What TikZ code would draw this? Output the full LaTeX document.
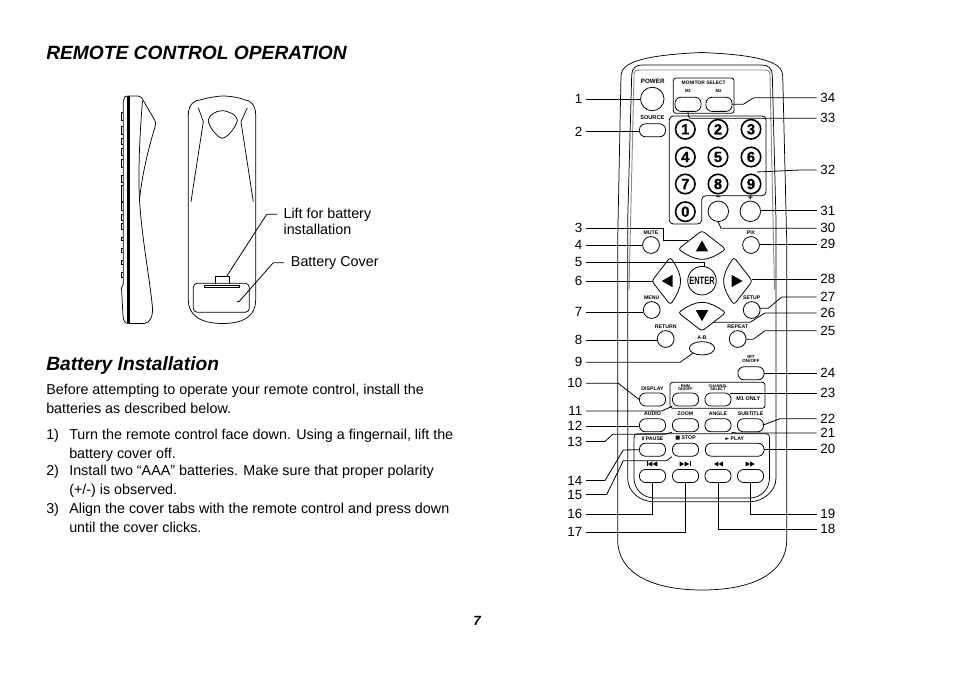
\documentclass[tikz,border=0pt]{standalone}
\usepackage{fontspec}
\setmainfont{Liberation Sans}
\newfontfamily\symf{DejaVu Sans}
\usetikzlibrary{calc,shapes.geometric}
\newcommand{\fnt}[1]{\fontsize{#1}{#1}\selectfont}
\newcommand{\fs}{\rule{0pt}{10pt}}
\tikzset{
  x=.75pt,y=-.75pt,
  outline/.style={line width=.55pt,black},
  leader/.style={line width=.6pt,black},
  bodytext/.style={anchor=north west,inner sep=0pt,align=left,font=\fnt{10.75}},
  llab/.style={anchor=east,inner xsep=2.6pt,inner ysep=0pt,font=\fnt{10}},
  rlab/.style={anchor=west,inner xsep=2.6pt,inner ysep=0pt,font=\fnt{10}},
  tiny/.style={inner sep=0pt,align=center,font=\fnt{3.9}\bfseries},
  tinyb/.style={inner sep=0pt,align=center,font=\fnt{2.9}\bfseries},
  rb/.style={draw,line width=.6pt,rectangle,rounded corners=4.6pt,minimum width=19.6pt,minimum height=9.8pt,inner sep=0pt},
  cb/.style={draw,line width=.6pt,circle,minimum size=12.6pt,inner sep=0pt},
  digit/.style={draw,line width=1.2pt,circle,minimum size=14.6pt,inner sep=0pt,font=\fnt{11}\bfseries\addfontfeature{FakeBold=1.2}},
  pics/padbtn/.style={code={
    \draw[line width=.6pt] (0,-13.8) .. controls (-1.5,-13.8) and (-2.5,-13) .. (-4,-11.8)
       -- (-21.5,1.8) .. controls (-23,3.2) and (-22.6,4.4) .. (-21.3,5.3)
       .. controls (-15,9.5) and (-8,13.8) .. (0,13.8)
       .. controls (8,13.8) and (15,9.5) .. (21.3,5.3)
       .. controls (22.6,4.4) and (23,3.2) .. (21.5,1.8)
       -- (4,-11.8) .. controls (2.5,-13) and (1.5,-13.8) .. (0,-13.8) -- cycle;
    \fill (0,-5) -- (-6.2,6) -- (6.2,6) -- cycle;
  }},
}
\begin{document}
\begin{tikzpicture}
\useasboundingbox (0,0) rectangle (954,673);
% ---------- left page text
\node[anchor=base west,inner sep=0pt,font=\fnt{14.4}\bfseries\itshape] (title) at (46,60) {REMOTE CONTROL OPERATION};
\node[anchor=base west,inner sep=0pt,font=\fnt{14.4}\bfseries\itshape] (sub) at (46,371) {Battery Installation};
\node[bodytext] (intro) at (46,380.5) {\fs Before attempting to operate your remote control, install the\\[3.55pt]batteries as described below.};
\node[bodytext] (n1) at (46,425.5) {\fs 1)};
\node[bodytext] (t1) at (69,425.5) {\fs Turn the remote control face down. Using a fingernail, lift the\\[3.55pt]battery cover off.};
\node[bodytext] (n2) at (46,461.5) {\fs 2)};
\node[bodytext] (t2) at (69,461.5) {\fs Install two “AAA” batteries. Make sure that proper polarity\\[3.55pt](+/-) is observed.};
\node[bodytext] (n3) at (46,499.5) {\fs 3)};
\node[bodytext] (t3) at (69,499.5) {\fs Align the cover tabs with the remote control and press down\\[3.55pt]until the cover clicks.};
\node[inner sep=0pt,font=\fnt{10}\bfseries\itshape] (page) at (477,621) {7};
% ---------- side view
\begin{scope}[outline]
\fill (127.3,96) rectangle (129.6,323.5);
\draw (128.5,96) -- (138,96) .. controls (141,96) and (142,98) .. (143,100) -- (154,119)
  .. controls (156,122) and (156,124) .. (155,127) .. controls (148,150) and (142,175) .. (139.5,200)
  .. controls (142,240) and (150,280) .. (152.5,308) .. controls (153,316) and (150,323.5) .. (144,323.5) -- (128.5,323.5);
\draw (142.5,101) .. controls (140,130) and (138,170) .. (139.5,200);
\draw (128.5,96) -- (125,96.5) .. controls (123.5,98) and (123.3,99) .. (123.3,101) -- (123.3,284) -- (121.5,288) -- (123,316) .. controls (123.5,321) and (125,323.5) .. (128.5,323.5);
\foreach \a/\b in {112.5/120,126.5/134,138/144.5,148.5/155,159/167,175/182,185/201,202/210,214.5/220,223.5/229,237/240.5,248.5/252,260/264,272.5/277}
  \draw (123.3,\a) -- (121,\a) -- (121,\b) -- (123.3,\b);
% ---------- back view
\draw (188.3,300) -- (188.3,115) .. controls (188.3,103) and (196,100) .. (200,100)
  .. controls (210,97) and (220,96) .. (222.5,96) .. controls (228,96) and (238,97) .. (245,100)
  .. controls (250,100) and (255.7,105) .. (255.7,115) -- (255.7,300)
  .. controls (255.7,315) and (245,323.5) .. (222.5,323.5) .. controls (200,323.5) and (188.3,315) .. (188.3,300) -- cycle;
\draw (222.3,138.3) .. controls (216,137) and (208,125) .. (208.3,120) .. controls (209,115) and (216,110.7) .. (222,110.7)
  .. controls (228,110.7) and (237,115) .. (237.3,120) .. controls (237,125) and (229,137) .. (222.3,138.3) -- cycle;
\draw (198.3,107.7) -- (203.3,121.7) -- (191,201.7);
\draw (247.3,107.7) -- (241,121.7) -- (253.3,201.7);
\node[draw,rectangle,inner sep=0pt,minimum width=10.2pt,minimum height=5.4pt] (tab) at (222.5,280.3) {};
\draw[fill=white,rounded corners=3pt] (193.3,283.3) rectangle (249.3,312.3);
\node[draw,line width=.35pt,rectangle,inner sep=0pt,minimum width=26pt,minimum height=1.3pt] (slot) at (221.5,286) {};
\coordinate (coverpt) at (239,301.7);
\draw (coverpt) -- ++(-2,-.5);
\end{scope}
\coordinate (liftbend) at (266.7,214.3);
\coordinate (coverbend) at (273.3,262.7);
\node[anchor=west,inner xsep=0pt,inner ysep=0pt,align=left,font=\fnt{10.75}] (liftlab) at (283.3,221.5) {Lift for battery\\[1.25pt]installation};
\node[anchor=west,inner xsep=0pt,inner ysep=0pt,font=\fnt{10.75}] (coverlab) at (290.7,262.5) {Battery Cover};
\draw[leader] (tab.north east) ++(-3,0) -- (liftbend) -- (277,214.3);
\draw[leader] (coverpt) -- (coverbend) -- (284,262.7);
% ---------- remote shell
\draw[outline] (621,75) -- (617.7,240) -- (617.7,540) .. controls (617.7,572) and (650,590) .. (702,590)
  .. controls (755,590) and (786.7,572) .. (786.7,540) -- (786.7,240) -- (782.7,75)
  .. controls (782,62) and (760,55) .. (702,52.5) .. controls (645,55) and (622,62) .. (621,75) -- cycle;
\draw[outline] (631.7,75) .. controls (632,68) and (636,65) .. (642,65) -- (762,65)
  .. controls (768,65) and (772,68) .. (772.3,75) -- (776,220) -- (776,478)
  .. controls (776,492) and (762,501.7) .. (750,501.7) -- (654,501.7)
  .. controls (640,501.7) and (627.7,492) .. (627.7,478) -- (627.7,220) -- cycle;
\draw[line width=.7pt,black!45] (629,290) -- (634,75) .. controls (634,71) and (636,70) .. (640,70) -- (764,70)
  .. controls (768,70) and (770,71) .. (770,75) -- (774.5,290);
\draw[outline] (634,438) .. controls (634,435) and (635,433.7) .. (638,433.7) -- (766,433.7)
  .. controls (768.5,433.7) and (769.5,435) .. (769.5,438) -- (769.5,478) .. controls (769.5,490) and (760,498) .. (750,498)
  -- (654,498) .. controls (644,498) and (634,490) .. (634,478) -- cycle;
% ---------- top buttons
\node[cb,minimum size=17.6pt] (power) at (652.3,99) {};
\node[tiny,font=\fnt{4.7}\bfseries] (powert) at (652.7,81.5) {POWER};
\node[rb] (source) at (652.5,130.3) {};
\node[tiny,font=\fnt{4.2}\bfseries] (sourcet) at (652.3,118) {SOURCE};
\draw[line width=.6pt,rounded corners=2pt] (673.3,78) rectangle (734,113.3);
\node[tiny,font=\fnt{3.7}\bfseries] (mont) at (703.7,82.5) {MONITOR SELECT};
\node[tiny,font=\fnt{3.2}\bfseries] (m1t) at (688,91.5) {M1};
\node[tiny,font=\fnt{3.2}\bfseries] (m2t) at (718.5,91.5) {M2};
\node[rb,minimum height=10.6pt] (m1) at (688,104.3) {};
\node[rb,minimum height=10.6pt] (m2) at (719,104.3) {};
\draw[line width=.6pt,rounded corners=3pt] (669.3,116) -- (766,116) -- (766,195.7) -- (701.7,195.7) -- (701.7,224) -- (669.3,224) -- cycle;
\foreach \n/\x/\y in {1/685.3/129.3,2/718/129.3,3/751/129.3,4/685.3/157,5/718/157,6/751/157,7/685.3/184,8/718/184,9/751/184,0/685.3/211.7}
  \node[digit] (d\n) at (\x,\y) {\n};
\node[cb,minimum size=15.4pt] (minus) at (718.3,211.3) {};
\node[cb,minimum size=15.4pt] (plus) at (750.3,211.3) {};
\node[tiny,font=\fnt{6.5}\bfseries] (minust) at (718.3,198) {–};
\node[tiny,font=\fnt{6.5}\bfseries] (plust) at (750.3,198) {+};
% ---------- navigation
\node[cb] (mute) at (651,245) {};
\node[tiny] (mutet) at (651,232.3) {MUTE};
\node[cb] (pix) at (751,245) {};
\node[tiny] (pixt) at (751,232.3) {PIX};
\pic at (702,245.5) {padbtn};
\pic[rotate=90] at (666.7,281) {padbtn};
\pic[rotate=-90] at (737.5,281) {padbtn};
\pic[rotate=180] at (702,316.2) {padbtn};
\node[draw,line width=.6pt,circle,minimum size=21.4pt,inner sep=0pt] (enter) at (702,280.7) {\scalebox{.7}[1]{\fnt{8}\bfseries ENTER}};
\node[cb] (menu) at (651.7,310) {};
\node[tiny] (menut) at (651.7,297.5) {MENU};
\node[cb] (setup) at (751.7,310) {};
\node[tiny] (setupt) at (751.7,297.5) {SETUP};
\node[cb] (return) at (665.7,339) {};
\node[tiny] (returnt) at (665.7,327) {RETURN};
\node[cb] (repeat) at (737.7,339) {};
\node[tiny] (repeatt) at (737.7,327) {REPEAT};
\node[draw,line width=.6pt,ellipse,minimum width=19pt,minimum height=10pt,inner sep=0pt] (ab) at (702,348.3) {};
\node[tiny] (abt) at (702,337.5) {A-B};
% ---------- lower buttons
\node[tiny,font=\fnt{3.4}\bfseries] (irtt) at (751,359) {IRT\\[-.6pt]ON/OFF};
\node[rb] (irt) at (751,373.3) {};
\draw[line width=.6pt,rounded corners=2pt] (670,382.3) rectangle (765,408.3);
\node[rb] (display) at (652.5,399.5) {};
\node[tiny] (displayt) at (652.5,388.5) {DISPLAY};
\node[rb] (rmm) at (685.5,399.5) {};
\node[tinyb] (rmmt) at (685.5,387.5) {RMM\\[-.4pt]ON/OFF};
\node[rb] (chan) at (718,399.5) {};
\node[tinyb] (chant) at (718,387.5) {CHANNEL\\[-.4pt]SELECT};
\node[tiny,font=\fnt{4.1}\bfseries] (m1only) at (748.3,398.7) {M1 ONLY};
\foreach \n/\x/\t in {audio/652.5/AUDIO,zoom/685.5/ZOOM,angle/718/ANGLE,subt/750.5/SUBTITLE}{
  \node[rb] (\n) at (\x,425.3) {};
  \node[tiny] (\n t) at (\x,413.5) {\t};
}
\node[rb] (pause) at (652.5,449.7) {};
\node[tiny] (pauset) at (652.5,438.5) {II PAUSE};
\node[rb] (stop) at (685.5,449.7) {};
\node[tiny] (stopt) at (685.5,438.5) {{\symf ■} STOP};
\node[rb,minimum width=44pt] (play) at (734.7,449.7) {};
\node[tiny] (playt) at (734.7,438.5) {{\symf ►} PLAY};
\foreach \n/\x in {prev/652.5,next/685.5,rew/718,fwd/750.5}
  \node[rb] (\n) at (\x,476) {};
% media icons
\fill (646.7,461.5) rectangle (647.5,466.5);
\fill (647.7,464) -- (652.4,461.5) -- (652.4,466.5) -- cycle;
\fill (652.6,464) -- (657.3,461.5) -- (657.3,466.5) -- cycle;
\fill (679.7,461.5) -- (684.4,464) -- (679.7,466.5) -- cycle;
\fill (684.6,461.5) -- (689.3,464) -- (684.6,466.5) -- cycle;
\fill (689.5,461.5) rectangle (690.3,466.5);
\fill (714,464) -- (718.3,461.5) -- (718.3,466.5) -- cycle;
\fill (718.5,464) -- (722.8,461.5) -- (722.8,466.5) -- cycle;
\fill (745.5,461.5) -- (750,464) -- (745.5,466.5) -- cycle;
\fill (750.2,461.5) -- (754.7,464) -- (750.2,466.5) -- cycle;
% ---------- number labels
\foreach \n/\y in {1/99,2/131.7,3/228.3,4/245,5/262,6/281,7/312.3,8/340,9/362.3,10/383.3,11/411,12/426,13/441.5,14/480.5,15/494.5,16/514,17/532}
  \node[llab] (l\n) at (586,\y) {\n};
\foreach \n/\y in {34/97.7,33/118.3,32/170,31/210.7,30/228.3,29/244.3,28/279,27/297,26/313,25/330.7,24/373.3,23/393.3,22/418.7,21/433,20/449,19/514,18/529}
  \node[rlab] (r\n) at (816.7,\y) {\n};
% ---------- connectors, left
\begin{scope}[leader]
\draw (l1.east) -- (power.west |- l1.east);
\draw (l2.east) -- (source.west |- l2.east);
\coordinate (upL) at (688.3,240.7);
\draw (l3.east) -| (663.3,240.7) -- (upL);
\draw (l4.east) -- (mute.west |- l4.east);
\draw (l5.east) -| (704,266.7);
\coordinate (leftT) at (652.7,281);
\draw (l6.east) -- (leftT);
\draw (l7.east) -- (menu.west |- l7.east);
\draw (l8.east) -- (return.west |- l8.east);
\draw (l9.east) -- (680,362.3) -- (ab.south west);
\draw (l10.east) -- (618.3,383.3) -- (display.west);
\draw (l11.east) -- (661.7,411) -- (rmm.south west);
\draw (l12.east) -- (audio.west |- l12.east);
\draw (l13.east) -- (605,441.5) -- (612.7,434.3) -- (665,434.3) -- (zoom.south west);
\draw (l14.east) -- (605,480.5) -- (623.3,450) -- (pause.west);
\draw (l15.east) -- (606.7,494.5) -- (623.3,460.7) -- (666.7,460.7) -- (stop.south west);
\draw (l16.east) -| (prev.south);
\draw (l17.east) -| (next.south);
% ---------- connectors, right
\draw (r34.west) -- (754,97.7) -- (743.3,104.3) -- (m2.east);
\draw (r33.west) -- (690,118.3) -- (688.3,116) -- (m1.south);
\coordinate (padpt) at (757,172);
\draw (r32.west) -- (800,170) -- (padpt);
\draw (r31.west) -- (plus.east |- r31.west);
\draw (r30.west) -- (721,228.3) -- (minus.south);
\draw (r29.west) -- (pix.east |- r29.west);
\coordinate (rightT) at (751.7,279);
\draw (r28.west) -- (rightT);
\coordinate (setE) at (760,308.3);
\draw (r27.west) -- (781.7,297) -- (768.3,308.3) -- (setE);
\coordinate (downR) at (713.3,322.3);
\draw (r26.west) -- (765,313) -- (750,322.3) -- (downR);
\coordinate (repE) at (746,339.3);
\draw (r25.west) -- (765,330.7) -- (753.3,339.3) -- (repE);
\draw (r24.west) -- (irt.east |- r24.west);
\coordinate (chanpt) at (730,393.3);
\draw (r23.west) -- (chanpt);
\draw (r22.west) -- (780,418.7) -- (763.3,425) -- (subt.east);
\draw (r21.west) -- (736.7,433) -- (angle.south east);
\draw (r20.west) -- (play.east |- r20.west);
\draw (r19.west) -| (fwd.south);
\draw (r18.west) -| (rew.south);
\end{scope}
\end{tikzpicture}
\end{document}
